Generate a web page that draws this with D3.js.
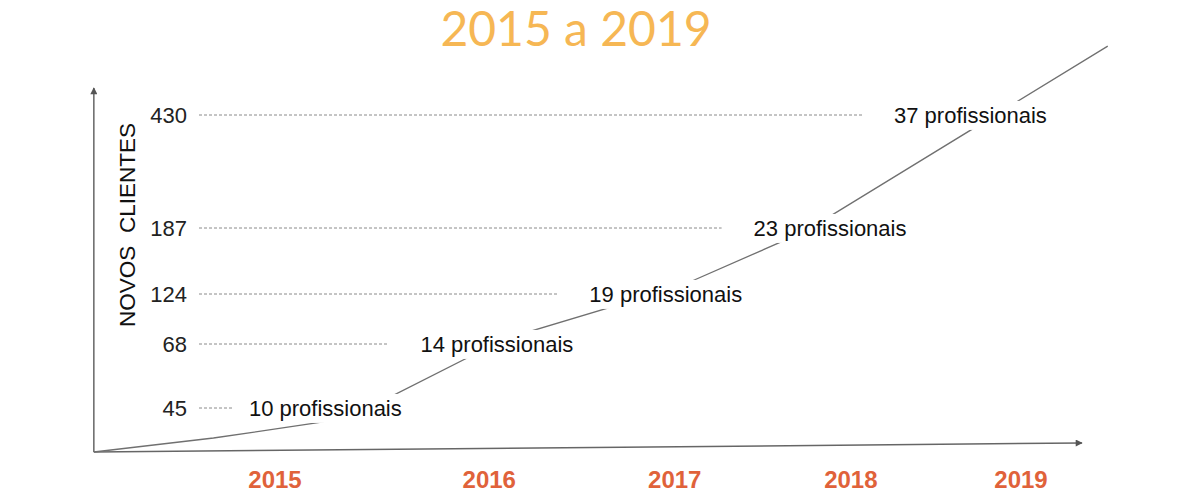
<!DOCTYPE html>
<html>
<meta charset="utf-8">
<style>
body {
	margin: 0;
	background: #fff;
}

svg {
	display: block;
}

.title {
	fill: #f6b754;
	font: 48px Lato, sans-serif;
}

.tick-label {
	fill: #222;
	font: 22px "Liberation Sans", Arial, sans-serif;
}

.grid {
	stroke: #8a8a8a;
	stroke-width: 1;
	stroke-dasharray: 3,2;
}

.axis-title {
	fill: #111;
	font: 22.5px "Liberation Sans", Arial, sans-serif;
	white-space: pre;
}

.year {
	fill: #e0623a;
	font: bold 24px "Liberation Sans", Arial, sans-serif;
}

.growth {
	fill: none;
	stroke: #707070;
	stroke-width: 1.3;
}

.axis-line {
	fill: none;
	stroke: #666;
	stroke-width: 1.5;
}

.note rect {
	fill: #fff;
}

.note text {
	fill: #111;
	font: 22px "Liberation Sans", Arial, sans-serif;
}
</style>

<body>
<svg id="chart" width="1200" height="500"></svg>

<script src="https://d3js.org/d3.v7.min.js"></script>

<script>
var years = [2015, 2016, 2017, 2018, 2019];
var clients = [45, 68, 124, 187, 430];
var professionals = [10, 14, 19, 23, 37];
// where along the timeline each "profissionais" note sits
var noteYears = [2015.20, 2016.04, 2016.95, 2017.88, 2018.70];
// the hand-drawn growth curve (year, new clients)
var curveYears = [2014.17, 2014.75, 2015.19, 2015.45, 2016.08, 2017.02, 2017.74, 2019.52];
var curveClients = [0, 14.3, 30.7, 47, 73.6, 130.7, 184, 578];

var axisTop = 88, axisRight = 1082;

var svg = d3.select("#chart");

var defs = svg.append("defs");
defs.append("marker")
	.attr("id", "arrow")
	.attr("viewBox", "0 0 10 10")
	.attr("refX", 9)
	.attr("refY", 5)
	.attr("markerUnits", "userSpaceOnUse")
	.attr("markerWidth", 9)
	.attr("markerHeight", 7)
	.attr("orient", "auto")
	.append("path")
	.attr("d", "M0,0L10,5L0,10z")
	.attr("fill", "#555");

// years get a little closer together towards the right
var x = d3.scalePow().exponent(0.9)
	.domain([0, years.length - 1])
	.range([275, 1021]);
function xYear(yr) { return x(yr - years[0]); }

var y = d3.scaleLinear()
	.domain([0].concat(clients))
	.range([452, 408, 344, 294, 228, 115]);

var x0 = xYear(curveYears[0]);

svg.append("text")
	.attr("class", "title")
	.attr("x", 576)
	.attr("y", 46)
	.attr("text-anchor", "middle")
	.text("2015 a 2019");

// axes
svg.append("path")
	.attr("class", "axis-line")
	.attr("marker-end", "url(#arrow)")
	.attr("d", d3.line()([[x0, y(0)], [x0, axisTop]]));

svg.append("path")
	.attr("class", "axis-line")
	.attr("marker-end", "url(#arrow)")
	.attr("d", d3.line()([[x0, y(0)], [axisRight, y(0) - 9]]));

svg.append("text")
	.attr("class", "axis-title")
	.attr("transform", "translate(127,225) rotate(-90)")
	.attr("text-anchor", "middle")
	.attr("dy", ".35em")
	.text("NOVOS  CLIENTES");

svg.selectAll(".tick-label")
	.data(clients)
	.enter().append("text")
	.attr("class", "tick-label")
	.attr("x", 187)
	.attr("y", function(d) { return y(d); })
	.attr("dy", ".36em")
	.attr("text-anchor", "end")
	.text(function(d) { return d; });

svg.selectAll(".year")
	.data(years)
	.enter().append("text")
	.attr("class", "year")
	.attr("x", function(d) { return xYear(d); })
	.attr("y", 488)
	.attr("text-anchor", "middle")
	.text(function(d) { return d; });

var curve = curveYears.map(function(yr, i) { return [yr, curveClients[i]]; });

var gridG = svg.append("g");

svg.append("path")
	.datum(curve)
	.attr("class", "growth")
	.attr("d", d3.line()
		.x(function(d) { return xYear(d[0]); })
		.y(function(d) { return y(d[1]); }));

var note = svg.selectAll(".note")
	.data(professionals)
	.enter().append("g")
	.attr("class", "note")
	.attr("transform", function(d, i) { return "translate(" + xYear(noteYears[i]) + "," + y(clients[i]) + ")"; });

note.append("text")
	.attr("text-anchor", "middle")
	.attr("dy", ".36em")
	.text(function(d) { return d + " profissionais"; });

note.each(function(d, i) {
	var g = d3.select(this);
	var bb = g.select("text").node().getBBox();
	g.insert("rect", "text")
		.attr("x", bb.x - 4)
		.attr("y", bb.y - 2)
		.attr("width", bb.width + 8)
		.attr("height", bb.height + 4);

	// dashed guide stops short of the note; never shorter than ~30px
	var left = xYear(noteYears[i]) + bb.x;
	gridG.append("line")
		.attr("class", "grid")
		.attr("x1", 199)
		.attr("x2", Math.max(left - 32, Math.min(left - 16, 232)))
		.attr("y1", y(clients[i]))
		.attr("y2", y(clients[i]));
});
</script>
</body>
</html>
